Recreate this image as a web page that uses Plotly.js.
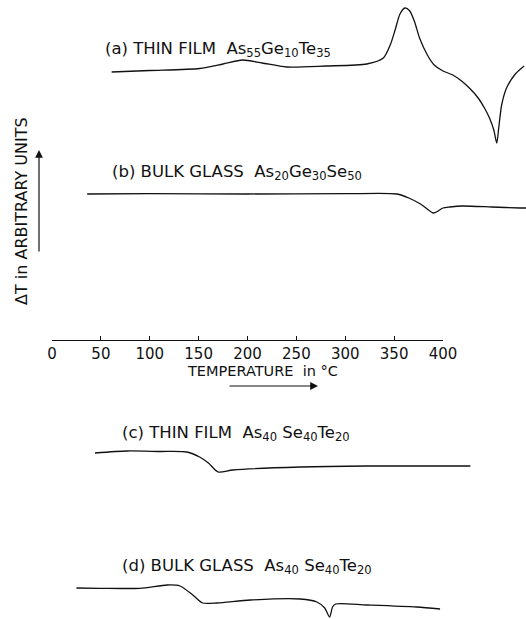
<!DOCTYPE html>
<html>
<head>
<meta charset="utf-8">
<script src="https://cdn.plot.ly/plotly-3.0.1.min.js"></script>
<style>html,body{margin:0;padding:0;background:#fff;}#chart{width:526px;height:619px;}</style>
</head>
<body>
<div id="chart"></div>
<script>
// Temperature (°C) and ΔT (arbitrary units)
const tempA = [61, 100, 151, 175, 195, 215, 240, 280, 322, 339, 346, 351, 356, 361, 366, 371, 376, 384, 391, 400, 410, 419, 428, 436, 443, 448, 452, 455, 457, 460, 465, 474, 483];
const dTA   = [0, 1.5, 3.5, 8, 12, 9, 5, 6, 8, 14, 27, 42, 58, 64, 61, 50, 34, 17, 7, 1, -3, -9, -17, -26, -37, -47, -58, -71, -56, -33, -16, -2, 6];

const tempB = [36, 100, 200, 300, 353, 365, 377, 390, 395, 400, 407, 420, 450, 479, 485];
const dTB   = [0, 0.3, 0, 0.3, 0, -4, -10, -19, -17, -14, -13, -12, -13, -14, -14];

const tempC = [44, 77, 110, 138, 151, 160, 170, 185, 254, 322, 428];
const dTC   = [0, 2, 1.5, 1, -4, -10, -19, -17, -14, -13, -13];

const tempD = [25, 49, 90, 118, 131, 144, 154, 169, 203, 254, 271, 279, 284, 287, 290, 322, 373, 397];
const dTD   = [0, -0.3, -0.3, 3, 2, -7, -15, -15, -12, -11, -14, -20, -29, -19, -16, -17, -19, -21];

const tickVals = [0, 50, 100, 150, 200, 250, 300, 350, 400];
const tickText = ['0', '50', '100', '150', '200', '250', '300', '350', '400'];

const curveLabels = [
  '(a) THIN FILM\u00A0\u00A0As<sub>55</sub>Ge<sub>10</sub>Te<sub>35</sub>',
  '(b) BULK GLASS\u00A0\u00A0As<sub>20</sub>Ge<sub>30</sub>Se<sub>50</sub>',
  '(c) THIN FILM\u00A0\u00A0As<sub>40</sub> Se<sub>40</sub>Te<sub>20</sub>',
  '(d) BULK GLASS\u00A0\u00A0As<sub>40</sub> Se<sub>40</sub>Te<sub>20</sub>'
];
const xTitle = 'TEMPERATURE\u00A0\u00A0in °C';
const yTitle = '\u0394T in ARBITRARY UNITS';

const W = 526, H = 619;
const FONT = 'DejaVu Sans, sans-serif';
const px = v => v / W;
const py = v => 1 - v / H;
// pixel rows of each curve's baseline
const base = [72, 194, 453, 588];
const yr = p => [p - H, p];

const line = {color: '#111', width: 1.3, shape: 'spline', smoothing: 0.7};
const traces = [
  {x: tempA, y: dTA, yaxis: 'y', type: 'scatter', mode: 'lines', line: line, hoverinfo: 'skip'},
  {x: tempB, y: dTB, yaxis: 'y2', type: 'scatter', mode: 'lines', line: line, hoverinfo: 'skip'},
  {x: tempC, y: dTC, yaxis: 'y3', type: 'scatter', mode: 'lines', line: line, hoverinfo: 'skip'},
  {x: tempD, y: dTD, yaxis: 'y4', type: 'scatter', mode: 'lines', line: line, hoverinfo: 'skip'}
];
// visible temperature scale (x2), sharing the same mapping as x
traces.push({x: [0, 400], y: [null, null], xaxis: 'x2', yaxis: 'y5', type: 'scatter', mode: 'lines', hoverinfo: 'skip', showlegend: false});

const hiddenY = r => ({domain: [0, 1], range: r, visible: false, fixedrange: true});
const x0 = 52, x400 = 443;
const scale = (x400 - x0) / 400;

const layout = {
  width: W, height: H,
  margin: {l: 0, r: 0, t: 0, b: 0},
  paper_bgcolor: 'rgba(0,0,0,0)', plot_bgcolor: 'rgba(0,0,0,0)',
  showlegend: false,
  font: {family: FONT, color: '#111'},
  xaxis: {domain: [0, 1], range: [-x0 / scale, (W - x0) / scale], visible: false, fixedrange: true},
  xaxis2: {
    domain: [px(x0), px(x400)], range: [0, 400], anchor: 'free', position: py(339.5),
    side: 'bottom',
    showline: true, linecolor: '#111', linewidth: 1.2,
    ticks: 'inside', ticklen: 4, tickwidth: 1, tickcolor: '#111',
    tickvals: tickVals, ticktext: tickText,
    tickfont: {family: FONT, size: 15, color: '#111'},
    showgrid: false, zeroline: false, fixedrange: true
  },
  yaxis: hiddenY(yr(base[0])),
  yaxis2: Object.assign(hiddenY(yr(base[1])), {overlaying: 'y'}),
  yaxis3: Object.assign(hiddenY(yr(base[2])), {overlaying: 'y'}),
  yaxis4: Object.assign(hiddenY(yr(base[3])), {overlaying: 'y'}),
  yaxis5: {domain: [0.3, 0.9], range: [0, 1], visible: false, fixedrange: true, anchor: 'x2'},
  annotations: [
    {text: curveLabels[0], x: px(103), y: py(49), xref: 'paper', yref: 'paper', xanchor: 'left', yanchor: 'middle', showarrow: false, font: {size: 16.5}},
    {text: curveLabels[1], x: px(110), y: py(173), xref: 'paper', yref: 'paper', xanchor: 'left', yanchor: 'middle', showarrow: false, font: {size: 16.5}},
    {text: curveLabels[2], x: px(120), y: py(433), xref: 'paper', yref: 'paper', xanchor: 'left', yanchor: 'middle', showarrow: false, font: {size: 16.5}},
    {text: curveLabels[3], x: px(120), y: py(566), xref: 'paper', yref: 'paper', xanchor: 'left', yanchor: 'middle', showarrow: false, font: {size: 16.5}},
    {text: xTitle, x: px(185), y: py(371), xref: 'paper', yref: 'paper', xanchor: 'left', yanchor: 'middle', showarrow: false, font: {size: 14.5}},
    {text: yTitle, x: px(22), y: py(211), xref: 'paper', yref: 'paper', xanchor: 'center', yanchor: 'middle', textangle: -90, showarrow: false, font: {size: 16}},
    // temperature direction arrow
    {text: '', x: px(318), y: py(386), xref: 'paper', yref: 'paper', ax: -90, ay: 0, showarrow: true, arrowhead: 2, arrowsize: 1.3, arrowwidth: 1.2, arrowcolor: '#111'},
    // ΔT direction arrow
    {text: '', x: px(39), y: py(150), xref: 'paper', yref: 'paper', ax: 0, ay: 103, showarrow: true, arrowhead: 2, arrowsize: 1.3, arrowwidth: 1.2, arrowcolor: '#111'}
  ]
};

Plotly.newPlot('chart', traces, layout, {displayModeBar: false, staticPlot: true});
</script>
</body>
</html>
